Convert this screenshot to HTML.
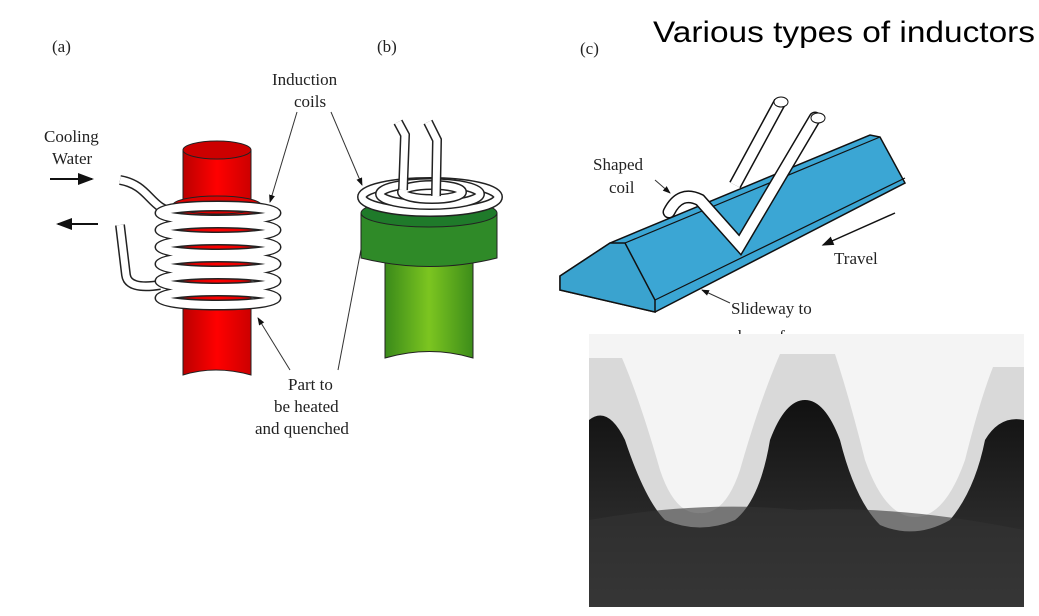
<!DOCTYPE html>
<html><head><meta charset="utf-8"><style>
html,body{margin:0;padding:0;background:#fff;}
svg{display:block;}
.s{font-family:"Liberation Serif",serif;font-size:17px;fill:#222;}
</style></head><body>
<svg width="1039" height="616" viewBox="0 0 1039 616" xmlns="http://www.w3.org/2000/svg">
<defs>
<linearGradient id="red" x1="0" x2="1"><stop offset="0" stop-color="#b00"/><stop offset="0.5" stop-color="#f00"/><stop offset="1" stop-color="#c00"/></linearGradient>
<linearGradient id="grn" x1="0" x2="1"><stop offset="0" stop-color="#3a8a1a"/><stop offset="0.5" stop-color="#7cc520"/><stop offset="1" stop-color="#3d8d1a"/></linearGradient>
<linearGradient id="gb" x1="0" y1="0" x2="0" y2="1"><stop offset="0" stop-color="#111"/><stop offset="0.6" stop-color="#2a2a2a"/><stop offset="1" stop-color="#3a3a3a"/></linearGradient>
<marker id="ah" markerWidth="8" markerHeight="8" refX="7" refY="4" orient="auto"><path d="M0,1 L8,4 L0,7 z" fill="#111"/></marker>
</defs>

<text x="653" y="42" font-family="Liberation Sans,sans-serif" font-size="30" fill="#000" textLength="382" lengthAdjust="spacingAndGlyphs">Various types of inductors</text>
<text x="52" y="52" class="s" font-size="15">(a)</text>
<text x="377" y="52" class="s" font-size="15">(b)</text>
<text x="580" y="54" class="s" font-size="14">(c)</text>

<!-- (a) -->
<text x="44" y="142" class="s">Cooling</text>
<text x="52" y="164" class="s">Water</text>
<line x1="50" y1="179" x2="92" y2="179" stroke="#111" stroke-width="2" marker-end="url(#ah)"/>
<line x1="98" y1="224" x2="58" y2="224" stroke="#111" stroke-width="2" marker-end="url(#ah)"/>
<path d="M183,150 Q215,140 251,150 L251,375 Q215,365 183,375 Z" fill="url(#red)" stroke="#222"/>
<ellipse cx="217" cy="150" rx="34" ry="9" fill="#c00" stroke="#222"/>
<rect x="173" y="205" width="89" height="70" fill="url(#red)" stroke="#222"/>
<ellipse cx="217" cy="205" rx="44" ry="9" fill="#d00" stroke="#222"/>
<g fill="none">
<path d="M120,180 C150,185 150,210 175,212" stroke="#222" stroke-width="10"/>
<path d="M120,180 C150,185 150,210 175,212" stroke="#fff" stroke-width="7"/>
<path d="M120,225 L126,275 Q128,290 160,285" stroke="#222" stroke-width="10"/>
<path d="M120,225 L126,275 Q128,290 160,285" stroke="#fff" stroke-width="7"/>
<g stroke="#222" stroke-width="11">
<ellipse cx="218" cy="213" rx="58" ry="7"/><ellipse cx="218" cy="230" rx="58" ry="7"/><ellipse cx="218" cy="247" rx="58" ry="7"/><ellipse cx="218" cy="264" rx="58" ry="7"/><ellipse cx="218" cy="281" rx="58" ry="7"/><ellipse cx="218" cy="298" rx="58" ry="7"/></g>
<g stroke="#fff" stroke-width="8">
<ellipse cx="218" cy="213" rx="58" ry="7"/><ellipse cx="218" cy="230" rx="58" ry="7"/><ellipse cx="218" cy="247" rx="58" ry="7"/><ellipse cx="218" cy="264" rx="58" ry="7"/><ellipse cx="218" cy="281" rx="58" ry="7"/><ellipse cx="218" cy="298" rx="58" ry="7"/></g>
</g>

<!-- labels a/b -->
<text x="272" y="85" class="s">Induction</text>
<text x="294" y="107" class="s">coils</text>
<line x1="297" y1="112" x2="270" y2="202" stroke="#333" stroke-width="1" marker-end="url(#ah)"/>
<line x1="331" y1="112" x2="362" y2="185" stroke="#333" stroke-width="1" marker-end="url(#ah)"/>
<text x="288" y="390" class="s">Part  to</text>
<text x="274" y="412" class="s">be  heated</text>
<text x="255" y="434" class="s">and  quenched</text>
<line x1="290" y1="370" x2="258" y2="318" stroke="#333" stroke-width="1" marker-end="url(#ah)"/>
<line x1="338" y1="370" x2="367" y2="218" stroke="#333" stroke-width="1" marker-end="url(#ah)"/>

<!-- (b) -->
<path d="M385,262 L385,358 Q430,345 473,358 L473,262 Z" fill="url(#grn)" stroke="#222"/>
<path d="M361,213 L361,258 Q430,275 497,258 L497,213 Z" fill="#2f8a28" stroke="#222"/>
<ellipse cx="429" cy="213" rx="68" ry="14" fill="#1f7a2a" stroke="#222"/>
<g fill="none">
<ellipse cx="430" cy="197" rx="68" ry="15" stroke="#222" stroke-width="10"/>
<ellipse cx="430" cy="197" rx="68" ry="15" stroke="#fff" stroke-width="7"/>
<ellipse cx="430" cy="194" rx="50" ry="11" stroke="#222" stroke-width="10"/>
<ellipse cx="430" cy="194" rx="50" ry="11" stroke="#fff" stroke-width="7"/>
<ellipse cx="432" cy="192" rx="30" ry="7" stroke="#222" stroke-width="10"/>
<ellipse cx="432" cy="192" rx="30" ry="7" stroke="#fff" stroke-width="7"/>
</g>
<path d="M398,122 L405,135 L403,190" fill="none" stroke="#222" stroke-width="10"/>
<path d="M398,122 L405,135 L403,190" fill="none" stroke="#fff" stroke-width="7"/>
<path d="M428,122 L437,140 L436,196" fill="none" stroke="#222" stroke-width="10"/>
<path d="M428,122 L437,140 L436,196" fill="none" stroke="#fff" stroke-width="7"/>

<!-- (c) -->
<path d="M560,276 L610,243 L870,135 L880,137 L905,183 L655,312 L560,290 Z" fill="#3ba6d4" stroke="#111" stroke-width="1.5"/>
<path d="M560,276 L610,243 L625,243 L655,300 L655,312 L560,290 Z" fill="#3aa3cf" stroke="#111" stroke-width="1.5"/>
<path d="M625,243 L880,137 M655,300 L905,178" fill="none" stroke="#111" stroke-width="1.2"/>
<g fill="none">
<path d="M669,212 Q680,190 700,200 L740,245 L815,118" stroke="#111" stroke-width="13" stroke-linecap="round"/>
<path d="M669,212 Q680,190 700,200 L740,245 L815,118" stroke="#fff" stroke-width="10" stroke-linecap="round"/>
<path d="M735,185 L780,102" stroke="#111" stroke-width="13"/>
<path d="M735,185 L780,102" stroke="#fff" stroke-width="10"/>
</g>
<ellipse cx="781" cy="102" rx="7" ry="5" fill="#fff" stroke="#111"/>
<ellipse cx="818" cy="118" rx="7" ry="5" fill="#fff" stroke="#111"/>
<text x="593" y="170" class="s">Shaped</text>
<text x="609" y="193" class="s">coil</text>
<line x1="655" y1="180" x2="670" y2="193" stroke="#333" marker-end="url(#ah)"/>
<line x1="895" y1="213" x2="823" y2="245" stroke="#111" stroke-width="1.5" marker-end="url(#ah)"/>
<text x="834" y="264" class="s">Travel</text>
<text x="731" y="314" class="s">Slideway  to</text>
<text x="738" y="342" class="s">be  surface</text>
<line x1="730" y1="303" x2="702" y2="290" stroke="#333" marker-end="url(#ah)"/>

<!-- photo -->
<svg x="589" y="334" width="435" height="273" viewBox="589 334 435 273">
<rect x="589" y="334" width="435" height="273" fill="#f4f4f4"/>
<path d="M589,358 L622,358 Q640,400 660,470 Q675,515 700,513 Q725,515 740,470 Q760,400 780,354 L835,354 Q850,400 865,460 Q885,517 915,517 Q945,517 965,460 Q980,400 993,367 L1024,367 L1024,607 L589,607 Z" fill="#d9d9d9"/>
<path d="M589,420 Q608,405 625,440 Q645,500 665,520 Q700,535 735,520 Q760,500 770,440 Q785,400 805,400 Q825,400 840,440 Q855,500 880,525 Q915,540 950,520 Q975,490 985,440 Q1000,415 1024,420 L1024,607 L589,607 Z" fill="url(#gb)"/>
<path d="M589,520 Q700,500 800,510 Q900,505 1024,530 L1024,607 L589,607 Z" fill="#333" opacity="0.6"/>
</svg>
</svg>
</body></html>
